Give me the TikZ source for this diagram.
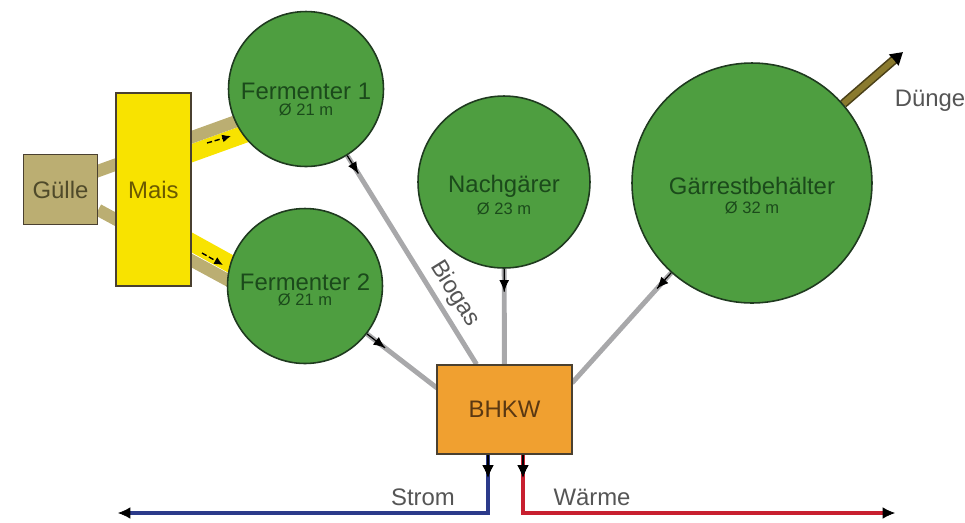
\documentclass[tikz,border=0pt]{standalone}
\usepackage{fontspec}
\setmainfont{Liberation Sans}
\usepackage{tikz}
\usetikzlibrary{positioning}
\usetikzlibrary{calc}
\usetikzlibrary{arrows.meta}
\usetikzlibrary{decorations.markings}
\pgfdeclarelayer{edgelayer}
\pgfsetlayers{edgelayer,main}

\definecolor{tankgreen}{HTML}{4E9E40}
\definecolor{tankline}{HTML}{1F3A1F}
\definecolor{tanktext}{HTML}{1B4A1B}
\definecolor{boxline}{HTML}{4A4030}
\definecolor{guellecol}{HTML}{BBAE72}
\definecolor{guelletext}{HTML}{4F4A2A}
\definecolor{maiscol}{HTML}{F8E300}
\definecolor{maistext}{HTML}{6B5A00}
\definecolor{bhkwcol}{HTML}{F0A030}
\definecolor{bhkwtext}{HTML}{5A3812}
\definecolor{pipegray}{HTML}{A8A8AA}
\definecolor{stromcol}{HTML}{2B3A8A}
\definecolor{waermecol}{HTML}{C8202F}
\definecolor{duengercol}{HTML}{8A7A2E}
\definecolor{duengeredge}{HTML}{4A4018}
\definecolor{labelgray}{HTML}{555555}

\newcommand{\bigfont}{\fontsize{13.6}{15}\selectfont}
\newcommand{\smallfont}{\fontsize{9.4}{11}\selectfont}

\tikzset{
  tank/.style={circle, draw=tankline, line width=0.9pt, fill=tankgreen, text=tanktext, align=center, inner sep=0pt, text height=30.6pt, text depth=0pt, font=\bigfont},
  plantbox/.style={rectangle, draw=boxline, line width=0.8pt, inner sep=0pt, font=\bigfont},
  flowlabel/.style={text=labelgray, font=\bigfont, inner sep=2pt},
  midtip/.style={decoration={markings, mark=at position #1 with {\draw[black, line width=0.7pt] (-#1,0) -- (0,0); \pgfsetlinewidth{0.5pt}\arrow{Latex[length=6.5pt, width=5.5pt, color=black]}}}, postaction={decorate}},
  gaspipe/.style={draw=pipegray, line width=2.8pt, midtip=#1},
  powerline/.style={draw=#1, line width=2.8pt, midtip=13pt, -{Latex[length=7pt, width=6.5pt, line width=0.4pt, color=black]}},
  feedband/.style={draw=#1, line cap=butt},
  feedarrow/.style={black, line width=0.8pt, dash pattern=on 3pt off 1.5pt, -{Latex[length=5pt, width=4.5pt]}},
  duengerbar/.style={draw=duengeredge, line width=5.2pt, -{Triangle[length=7pt, width=8pt, color=black]}, postaction={draw=duengercol, line width=3.4pt, -, shorten >=7pt}}
}

\begin{document}
\begin{tikzpicture}[x=0.02cm, y=0.02cm]
    \useasboundingbox (0,0) rectangle (965,-522);
    % plant parts
    \node [plantbox, fill=guellecol, text=guelletext, minimum width=1.48cm, minimum height=1.4cm] (guelle) at (60.5,-189.5) {Gülle};
    \node [plantbox, fill=maiscol, text=maistext, minimum width=1.5cm, minimum height=3.86cm, right=0.34cm of guelle] (mais) {Mais};
    \node [tank, minimum size=3.1cm] (f1) at (306,-89) {Fermenter 1\\[-5.7pt]{\smallfont Ø 21 m}};
    \node [tank, minimum size=3.1cm, text height=22.7pt] (f2) at (305,-286) {Fermenter 2\\[-6.3pt]{\smallfont Ø 21 m}};
    \node [tank, minimum size=3.44cm, text height=36.8pt] (ng) at (504,-182) {Nachgärer\\[-2.4pt]{\smallfont Ø 23 m}};
    \node [tank, minimum size=4.8cm, text height=34.8pt] (gr) at (752,-183) {Gärrestbehälter\\[-4pt]{\smallfont Ø 32 m}};
    \node [plantbox, fill=bhkwcol, text=bhkwtext, minimum width=2.7cm, minimum height=1.78cm] (bhkw) at (504.5,-409.5) {BHKW};
    % labels
    \node [flowlabel] (stromlabel) at (423,-497) {Strom};
    \node [flowlabel] (waermelabel) at (592,-497) {Wärme};
    \node [flowlabel, anchor=west] (duengerlabel) at (891,-101) {Dünger};
    % free ends
    \coordinate (f2in) at (437,-388);
    \coordinate (grin) at (572,-383);
    \coordinate (stromend) at (118,-513);
    \coordinate (waermeend) at (895,-513);
    \coordinate (duengerend) at (903,-52);
    \coordinate (feed1a) at (207,-143);
    \coordinate (feed1b) at (231,-136);
    \coordinate (feed2a) at (202,-253);
    \coordinate (feed2b) at (223,-265);

    \begin{pgfonlayer}{edgelayer}
        % substrate feed
        \draw [feedband=maiscol, line width=10pt] ($(mais)+(0,22.5)$) to ($(f1)+(0,-23)$);
        \draw [feedband=guellecol, line width=7pt] ($(guelle)+(0,5)$) to ($(f1)+(0,-7)$);
        \draw [feedband=maiscol, line width=10pt] ($(mais)+(0,-31.7)$) to ($(f2)+(0,-19)$);
        \draw [feedband=guellecol, line width=7pt] (guelle) to ($(f2)+(0,-36)$);
        % biogas
        \draw [gaspipe=12pt] (f1) to node [flowlabel, pos=0.71, sloped, above=1pt] (biogas) {Biogas} (bhkw);
        \draw [gaspipe=13pt] (f2) to (f2in);
        \draw [gaspipe=13pt] (ng) to (bhkw);
        \draw [gaspipe=12pt] (gr) to (grin);
        % outputs
        \draw [powerline=stromcol] ([xshift=-0.33cm]bhkw.south) |- (stromend);
        \draw [powerline=waermecol] ([xshift=0.37cm]bhkw.south) |- (waermeend);
        \draw [duengerbar] (gr) to (duengerend);
    \end{pgfonlayer}
    \draw [feedarrow] (feed1a) to (feed1b);
    \draw [feedarrow] (feed2a) to (feed2b);
\end{tikzpicture}
\end{document}
